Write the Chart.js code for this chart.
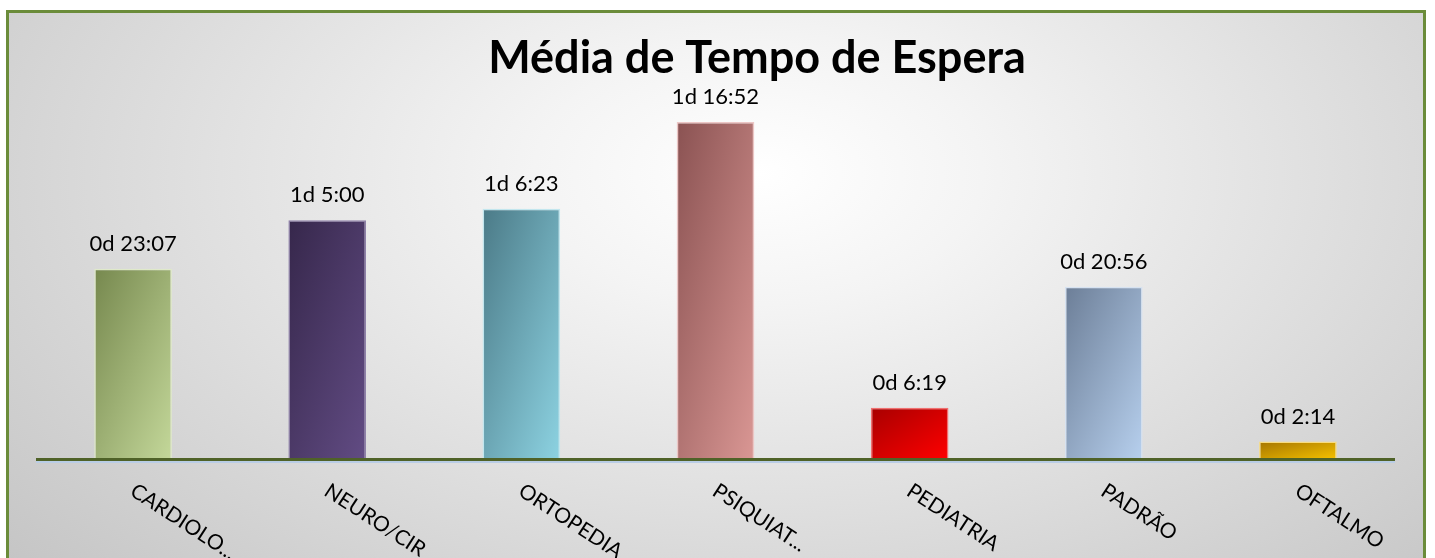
<!DOCTYPE html>
<html>
<head>
<meta charset="utf-8">
<script src="https://cdn.jsdelivr.net/npm/chart.js@4.4.1/dist/chart.umd.min.js"></script>
<style>
html, body { margin: 0; padding: 0; background: #fff; overflow: hidden; }
#frame {
    position: absolute; left: 6px; top: 10px; width: 1420px; height: 600px;
    box-sizing: border-box; border: 3px solid #6b8c3a;
    background: radial-gradient(ellipse 72% 100% at 53% 27%, #ffffff 0%, #f4f4f4 22%, #c4c4c4 100%);
}
#chart { position: absolute; left: 0; top: 0; }
</style>
</head>
<body>
<div id="frame"></div>
<canvas id="chart" width="1435" height="558"></canvas>
<script>
// waiting time per specialty, in minutes
const categories = ['CARDIOLO...', 'NEURO/CIR', 'ORTOPEDIA', 'PSIQUIAT...', 'PEDIATRIA', 'PADRÃO', 'OFTALMO'];
const waitMinutes = [1387, 1740, 1823, 2452, 379, 1256, 134];
const chartTitle = 'Média de Tempo de Espera';

// bar gradient colours (dark top-left -> light bottom-right)
const colorFrom = ['#76884e', '#36274b', '#4b7a87', '#8a5252', '#a80000', '#6c7e97', '#a57500'];
const colorTo = ['#c4d89a', '#624c84', '#8dd3e2', '#da9794', '#ff0000', '#b7d0ee', '#f7c300'];
const colorEdge = ['#dfe9c9', '#8e80a8', '#c2e6ee', '#ecc6c5', '#f07070', '#d6e2f1', '#f8dc80'];

const labelFont = '22px Lato';
const categoryFont = '21px Lato';

const formatWait = (mins) => {
    const d = Math.floor(mins / 1440);
    const h = Math.floor((mins % 1440) / 60);
    const m = mins % 60;
    return `${d}d ${h}:${String(m).padStart(2, '0')}`;
};

// diagonal gradient that scales with the bar (like office "rotate with shape")
const barGradient = (context) => {
    const chart = context.chart;
    const { ctx, chartArea, scales } = chart;
    const i = context.dataIndex;
    if (!chartArea || i === undefined) return colorTo[i] || '#999';
    const x = scales.x.getPixelForValue(i);
    const w = chartArea.width / categories.length * 0.4;
    const top = scales.y.getPixelForValue(waitMinutes[i]);
    const h = scales.y.getPixelForValue(0) - top;
    const left = x - w / 2;
    const t = 2 * w * h / (h * h + w * w);
    const g = ctx.createLinearGradient(left, top, left + t * h, top + t * w);
    g.addColorStop(0, colorFrom[i]);
    g.addColorStop(1, colorTo[i]);
    return g;
};

const decorPlugin = {
    id: 'decor',
    afterDatasetsDraw(chart) {
        const { ctx, chartArea, scales } = chart;
        const meta = chart.getDatasetMeta(0);

        // baseline
        const y0 = scales.y.getPixelForValue(0);
        ctx.save();
        ctx.fillStyle = '#b9cde5';
        ctx.fillRect(chartArea.left, y0 + 1, chartArea.width, 2);
        ctx.fillStyle = '#4f6228';
        ctx.fillRect(chartArea.left, y0 - 2, chartArea.width, 3);

        // value labels
        ctx.fillStyle = '#000';
        ctx.font = labelFont;
        ctx.textAlign = 'center';
        ctx.textBaseline = 'alphabetic';
        meta.data.forEach((bar, i) => {
            ctx.fillText(formatWait(waitMinutes[i]), bar.x, bar.y - 18);
        });

        // rotated category labels
        ctx.font = categoryFont;
        ctx.textAlign = 'left';
        ctx.textBaseline = 'top';
        categories.forEach((c, i) => {
            const x = scales.x.getPixelForValue(i);
            ctx.save();
            ctx.translate(x + 5, y0 + 20);
            ctx.rotate(33 * Math.PI / 180);
            ctx.fillText(c, 0, 0);
            ctx.restore();
        });

        // title
        ctx.font = 'bold 45px Lato';
        ctx.textAlign = 'center';
        ctx.textBaseline = 'alphabetic';
        ctx.fillText(chartTitle, 757, 73);
        ctx.restore();
    }
};

const chart = new Chart(document.getElementById('chart'), {
    type: 'bar',
    data: {
        labels: categories,
        datasets: [{
            data: waitMinutes,
            backgroundColor: barGradient,
            borderColor: colorEdge,
            borderWidth: 1.5,
            barPercentage: 0.4,
            categoryPercentage: 1
        }]
    },
    options: {
        responsive: false,
        animation: false,
        layout: { padding: { left: 36, right: 40, top: 63, bottom: 98 } },
        plugins: {
            legend: { display: false },
            tooltip: { enabled: false },
            title: { display: false }
        },
        scales: {
            x: { display: false },
            y: { display: false, min: 0, max: 2880 }
        }
    },
    plugins: [decorPlugin]
});
</script>
</body>
</html>
